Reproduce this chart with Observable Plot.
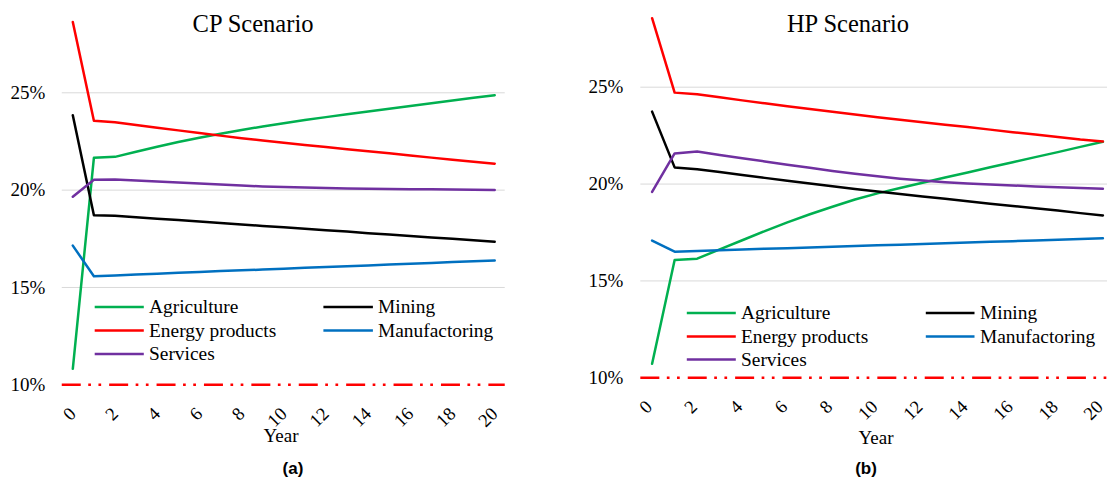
<!DOCTYPE html>
<html>
<head>
<meta charset="utf-8">
<script src="https://cdn.jsdelivr.net/npm/d3@7"></script>
<script src="https://cdn.jsdelivr.net/npm/@observablehq/plot@0.6"></script>
<style>
  html, body { margin: 0; padding: 0; background: #fff; overflow: hidden; }
  #chart { position: relative; width: 1107px; height: 479px; overflow: hidden; background: #fff; }
  #chart > .panel { position: absolute; top: 0; }
  #chart > svg.overlay { position: absolute; left: 0; top: 0; pointer-events: none; }
  #chart text { font-family: "Liberation Serif", serif; }
  #chart text.caption { font-family: "Liberation Sans", sans-serif; }
</style>
</head>
<body>
<div id="chart"></div>
<script>
// Years and axis ticks
const years = [0, 1, 2, 3, 4, 5, 6, 7, 8, 9, 10, 11, 12, 13, 14, 15, 16, 17, 18, 19, 20];
const xTicks = [0, 2, 4, 6, 8, 10, 12, 14, 16, 18, 20];
const yTicks = [10, 15, 20, 25];
const yGrid = [15, 20, 25];
const thresholdLevel = 10;

// Sectors and their colours
const sectors = ["Agriculture", "Mining", "Energy products", "Manufactoring", "Services"];
const sectorColors = ["#00B050", "#000000", "#FF0000", "#0070C0", "#7030A0"];

// CP scenario (%)
const cpAgriculture = [10.82, 21.66, 21.71, 21.97, 22.23, 22.47, 22.69, 22.90, 23.09, 23.27, 23.44, 23.60, 23.75, 23.90, 24.04, 24.18, 24.32, 24.46, 24.60, 24.74, 24.88];
const cpMining = [23.85, 18.71, 18.68, 18.61, 18.53, 18.46, 18.39, 18.31, 18.24, 18.16, 18.09, 18.02, 17.94, 17.87, 17.79, 17.72, 17.65, 17.57, 17.50, 17.42, 17.35];
const cpEnergy = [28.64, 23.57, 23.49, 23.35, 23.21, 23.07, 22.93, 22.80, 22.67, 22.55, 22.43, 22.32, 22.21, 22.10, 22.00, 21.89, 21.78, 21.67, 21.56, 21.46, 21.36];
const cpManufacturing = [17.15, 15.58, 15.62, 15.66, 15.71, 15.75, 15.79, 15.84, 15.88, 15.92, 15.96, 16.01, 16.05, 16.09, 16.13, 16.18, 16.22, 16.26, 16.31, 16.35, 16.39];
const cpServices = [19.66, 20.53, 20.54, 20.49, 20.44, 20.39, 20.34, 20.29, 20.24, 20.19, 20.16, 20.13, 20.11, 20.09, 20.07, 20.06, 20.05, 20.04, 20.03, 20.02, 20.01];

// HP scenario (%)
const hpAgriculture = [10.72, 16.08, 16.15, 16.63, 17.10, 17.57, 18.02, 18.44, 18.83, 19.20, 19.52, 19.80, 20.07, 20.34, 20.60, 20.87, 21.13, 21.39, 21.65, 21.92, 22.18];
const hpMining = [23.74, 20.86, 20.77, 20.62, 20.47, 20.32, 20.17, 20.03, 19.89, 19.75, 19.62, 19.49, 19.36, 19.24, 19.11, 18.99, 18.87, 18.75, 18.63, 18.50, 18.38];
const hpEnergy = [28.56, 24.72, 24.64, 24.48, 24.32, 24.17, 24.02, 23.87, 23.73, 23.59, 23.45, 23.32, 23.19, 23.06, 22.94, 22.81, 22.68, 22.56, 22.43, 22.30, 22.20];
const hpManufacturing = [17.08, 16.51, 16.55, 16.58, 16.62, 16.66, 16.69, 16.73, 16.76, 16.80, 16.84, 16.87, 16.91, 16.95, 16.98, 17.02, 17.05, 17.09, 17.13, 17.16, 17.20];
const hpServices = [19.60, 21.58, 21.68, 21.50, 21.33, 21.17, 21.00, 20.84, 20.68, 20.53, 20.40, 20.28, 20.18, 20.10, 20.03, 19.98, 19.93, 19.88, 19.84, 19.80, 19.76];

const cpSeries = [cpAgriculture, cpMining, cpEnergy, cpManufacturing, cpServices];
const hpSeries = [hpAgriculture, hpMining, hpEnergy, hpManufacturing, hpServices];

function toRows(series) {
  const rows = [];
  series.forEach((values, i) => {
    values.forEach((v, j) => rows.push({sector: sectors[i], year: years[j], value: v}));
  });
  return rows;
}

const SERIF = "Liberation Serif";

function panel(series, cfg) {
  return Plot.plot({
    width: cfg.width,
    height: 479,
    marginLeft: cfg.marginLeft,
    marginRight: cfg.marginRight,
    marginTop: 10,
    marginBottom: cfg.marginBottom,
    x: {domain: [0, 20], range: cfg.xRange},
    y: {domain: [10, 25], range: cfg.yRange},
    color: {domain: sectors, range: sectorColors},
    style: {fontFamily: SERIF, background: "transparent", overflow: "visible", color: "#000"},
    marks: [
      Plot.ruleY(yGrid, {x1: -0.5, x2: 20.5, stroke: "#d9d9d9", strokeWidth: 1}),
      Plot.ruleY([thresholdLevel], {
        x1: -0.5, x2: 20.5, stroke: "#FF0000", strokeWidth: 2.5,
        strokeDasharray: "19,7.5,2.7,7.5,2.7,8"
      }),
      Plot.line(toRows(series), {
        x: "year", y: "value", z: "sector", stroke: "sector",
        strokeWidth: 2.5, strokeLinejoin: "round", curve: "linear"
      }),
      Plot.axisY({
        ticks: yTicks, tickSize: 0, tickPadding: cfg.yPad,
        tickFormat: d => `${d}%`, fontSize: 19, fontFamily: SERIF, label: null
      }),
      Plot.axisX({
        ticks: xTicks, tickSize: 0, tickPadding: cfg.xPad, tickRotate: -45, dx: cfg.xDx,
        tickFormat: d => String(d), fontSize: 18.5, fontFamily: SERIF, label: null
      })
    ]
  });
}

const chart = document.getElementById("chart");

const left = panel(cpSeries, {
  width: 540, marginLeft: 61.7, marginRight: 540 - 504.8, marginBottom: 479 - 384.3,
  xRange: [72.3, 494.2], yRange: [384.3, 92.3], yPad: 16.8, xPad: 26, xDx: 0
});
left.classList.add("panel");
left.style.left = "0px";
chart.appendChild(left);

const right = panel(hpSeries, {
  width: 564, marginLeft: 90.6, marginRight: 0.6, marginBottom: 479 - 377.3,
  xRange: [101.6, 552.4], yRange: [377.3, 86.7], yPad: 17.8, xPad: 26, xDx: -3
});
right.classList.add("panel");
right.style.left = "550px";
chart.appendChild(right);

// Titles, axis titles, captions and legends
const overlay = d3.create("svg")
  .attr("class", "overlay")
  .attr("width", 1107)
  .attr("height", 479)
  .attr("font-family", SERIF);

const panels = [
  {title: "CP Scenario", tx: 253, caption: "(a)", cx: 293, yearX: 281, yearY: 442,
   legend: {c1: [94.7, 143.8, 149], c2: [323.4, 372.9, 378], rows: [307, 330.5, 354]}},
  {title: "HP Scenario", tx: 848, caption: "(b)", cx: 866, yearX: 876, yearY: 444,
   legend: {c1: [686.8, 735.8, 741], c2: [925.8, 974.5, 980], rows: [313, 336.5, 359.5]}}
];

panels.forEach(p => {
  overlay.append("text").attr("x", p.tx).attr("y", 31.5)
    .attr("text-anchor", "middle").attr("font-size", 24.5).text(p.title);
  overlay.append("text").attr("x", p.yearX).attr("y", p.yearY)
    .attr("text-anchor", "middle").attr("font-size", 19).text("Year");
  overlay.append("text").attr("class", "caption").attr("x", p.cx).attr("y", 474)
    .attr("text-anchor", "middle").attr("font-size", 17).attr("font-weight", "bold")
    .text(p.caption);
  // legend: two columns, filled row by row
  sectors.forEach((name, i) => {
    const col = i % 2 === 0 ? p.legend.c1 : p.legend.c2;
    const y = p.legend.rows[Math.floor(i / 2)];
    overlay.append("line").attr("x1", col[0]).attr("x2", col[1]).attr("y1", y).attr("y2", y)
      .attr("stroke", sectorColors[i]).attr("stroke-width", 2.7);
    overlay.append("text").attr("x", col[2]).attr("y", y).attr("dy", "0.32em")
      .attr("font-size", 19.4).text(name);
  });
});

chart.appendChild(overlay.node());
</script>
</body>
</html>
